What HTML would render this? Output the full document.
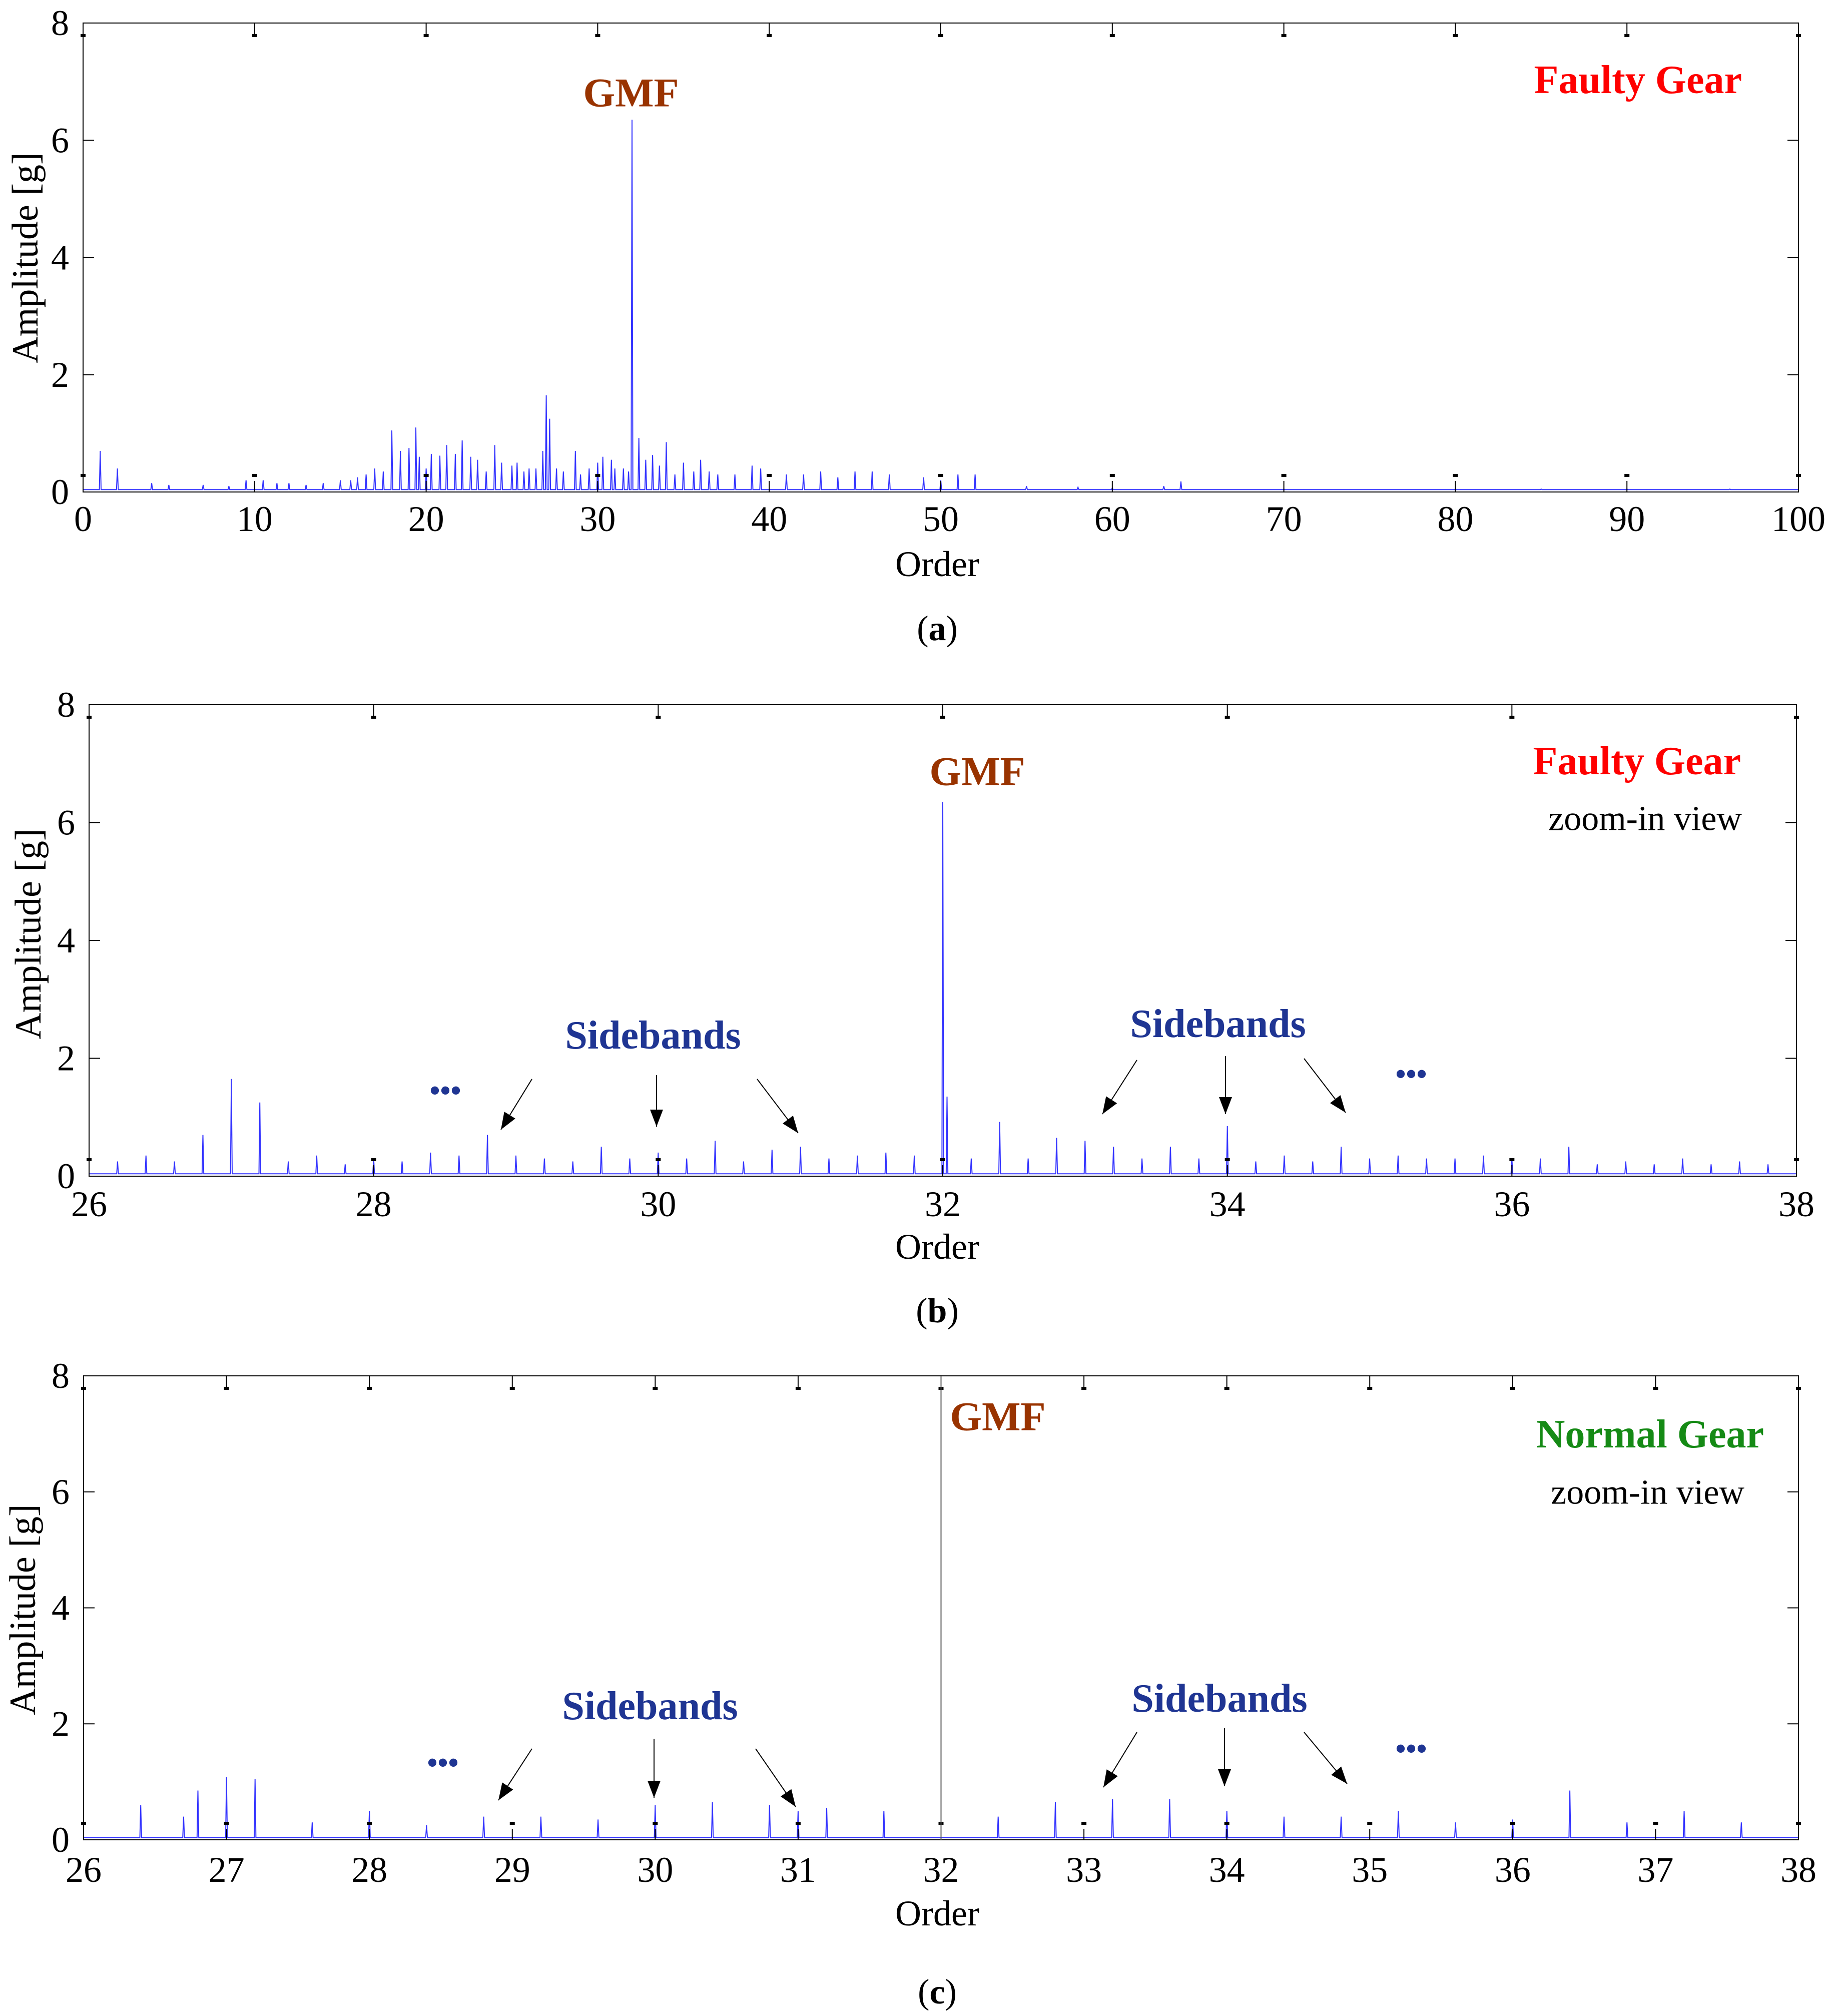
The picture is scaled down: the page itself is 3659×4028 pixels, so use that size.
<!DOCTYPE html>
<html><head><meta charset="utf-8">
<style>
html,body{margin:0;padding:0;background:#fff;}
svg{display:block;font-family:"Liberation Serif",serif;}
</style></head>
<body>
<svg id="chart" width="3659" height="4028" viewBox="0 0 3659 4028" xmlns="http://www.w3.org/2000/svg">
<rect width="3659" height="4028" fill="#fff"/>
</svg>
<script>
// Panel (a) data: faulty gear full view
const aOrders = [1,2,4,5,7,8.5,9.5,10.5,11.3,12,13,14,15,15.6,16,16.5,17,17.5,18,18.5,19,19.4,19.6,20,20.3,20.8,21.2,21.7,22.1,22.6,23,23.5,24,24.4,25,25.3,25.7,26,26.4,26.8,27,27.2,27.6,28,28.7,29,29.5,30,30.3,30.8,31,31.5,31.8,32,32.4,32.8,33.2,33.6,34,34.5,35,35.6,36,36.5,37,38,39,39.5,41,42,43,44,45,46,47,49,50,51,52,55,58,60,63,64,70,80,85,90,96];
const aAmps   = [0.7,0.4,0.15,0.12,0.12,0.1,0.2,0.2,0.15,0.15,0.12,0.15,0.2,0.2,0.25,0.3,0.4,0.35,1.05,0.7,0.75,1.1,0.6,0.4,0.65,0.62,0.8,0.65,0.88,0.6,0.55,0.35,0.8,0.5,0.45,0.5,0.35,0.4,0.4,0.7,1.65,1.25,0.4,0.35,0.7,0.3,0.4,0.5,0.6,0.55,0.4,0.4,0.35,6.35,0.92,0.55,0.63,0.45,0.85,0.3,0.5,0.35,0.55,0.35,0.3,0.3,0.45,0.4,0.3,0.3,0.35,0.25,0.35,0.35,0.3,0.25,0.2,0.3,0.3,0.1,0.08,0.07,0.1,0.18,0.05,0.05,0.05,0.05,0.05];
// Panel (b) data: faulty gear zoom-in
const bOrders = [26.2,26.4,26.6,26.8,27,27.2,27.4,27.6,27.8,28,28.2,28.4,28.6,28.8,29,29.2,29.4,29.6,29.8,30,30.2,30.4,30.6,30.8,31,31.2,31.4,31.6,31.8,32,32.03,32.2,32.4,32.6,32.8,33,33.2,33.4,33.6,33.8,34,34.2,34.4,34.6,34.8,35,35.2,35.4,35.6,35.8,36,36.2,36.4,36.6,36.8,37,37.2,37.4,37.6,37.8];
const bAmps   = [0.25,0.35,0.25,0.7,1.65,1.25,0.25,0.35,0.2,0.3,0.25,0.4,0.35,0.7,0.35,0.3,0.25,0.5,0.3,0.4,0.3,0.6,0.25,0.45,0.5,0.3,0.35,0.4,0.35,6.35,1.35,0.3,0.92,0.3,0.65,0.6,0.5,0.3,0.5,0.3,0.85,0.25,0.35,0.25,0.5,0.3,0.35,0.3,0.3,0.35,0.3,0.3,0.5,0.2,0.25,0.2,0.3,0.2,0.25,0.2];
// Panel (c) data: normal gear zoom-in
const cOrders = [26.4,26.7,26.8,27,27.2,27.6,28,28.4,28.8,29.2,29.6,30,30.4,30.8,31,31.2,31.6,32.4,32.8,33.2,33.6,34,34.4,34.8,35.2,35.6,36,36.4,36.8,37.2,37.6];
const cAmps   = [0.6,0.4,0.85,1.08,1.05,0.3,0.5,0.25,0.4,0.4,0.35,0.6,0.65,0.6,0.5,0.55,0.5,0.4,0.65,0.7,0.7,0.5,0.4,0.4,0.5,0.3,0.35,0.85,0.3,0.5,0.3];
const cGmfOrder = 32, cGmfAmp = 8;
const aTicks = [0,10,20,30,40,50,60,70,80,90,100];
const bTicks = [26,28,30,32,34,36,38];
const cTicks = [26,27,28,29,30,31,32,33,34,35,36,37,38];
const yTicks = [0,2,4,6,8];

const NS="http://www.w3.org/2000/svg";
const svg=document.getElementById('chart');
function mk(tag,attrs,parent){const e=document.createElementNS(NS,tag);for(const k in attrs)e.setAttribute(k,attrs[k]);(parent||svg).appendChild(e);return e;}
function txt(s,x,y,size,opts,parent){const t=mk('text',Object.assign({x:x,y:y,'font-size':size,'dominant-baseline':'central','text-anchor':'middle',fill:'#000'},opts||{}),parent);t.textContent=s;return t;}

function panel(p){
  const g=mk('g',{});
  
  
  const X=v=>p.x0+(v-p.xmin)/(p.xmax-p.xmin)*(p.x1-p.x0);
  const Y=v=>p.y0-(v/8)*(p.y0-p.y1);
  const frame=mk('rect',{x:p.x0,y:p.y1,width:p.x1-p.x0,height:p.y0-p.y1,fill:'none',stroke:'#000','stroke-width':2},g);
  
  
  const base=0.04, d=(p.xmax-p.xmin)*0.0005;
  let pts=[[p.xmin,base]];
  p.orders.forEach((o,i)=>{pts.push([o-d,base]);pts.push([o,p.amps[i]]);pts.push([o+d,base]);});
  pts.push([p.xmax,base]);
  const line=mk('polyline',{points:pts.map(q=>X(q[0]).toFixed(1)+','+Y(q[1]).toFixed(1)).join(' '),fill:'none',stroke:'#3333ff','stroke-width':2},g);
  
  
  p.ticks.forEach(t=>{
    const x=X(t);
    mk('line',{x1:x,y1:p.y0,x2:x,y2:p.y0-22,stroke:'#000','stroke-width':2},g);
    mk('line',{x1:x,y1:p.y1,x2:x,y2:p.y1+22,stroke:'#000','stroke-width':2},g);
    mk('rect',{x:x-5,y:p.y1+22,width:10,height:6,fill:'#000'},g);
    mk('rect',{x:x-5,y:p.y0-36,width:10,height:6,fill:'#000'},g);
    const l=txt(String(t),x,p.xlabY,72,{},g);
    
    
  });
  yTicks.forEach(t=>{
    const y=Y(t);
    mk('line',{x1:p.x0,y1:y,x2:p.x0+22,y2:y,stroke:'#000','stroke-width':2},g);
    mk('line',{x1:p.x1,y1:y,x2:p.x1-22,y2:y,stroke:'#000','stroke-width':2},g);
    const l=txt(String(t),p.x0-28,y,72,{'text-anchor':'end'},g);
    
    
  });
  const yl=txt('Amplitude [g]',0,0,74,{transform:`translate(${p.ylab[0]},${p.ylab[1]}) rotate(-90)`},g);
  
  
  const xl=txt('Order',1873,p.orderY,72,{},g);
  
  
  const cap=mk('text',{x:1873,y:p.capY,'font-size':70,'text-anchor':'middle','dominant-baseline':'central'},g);
  cap.innerHTML='(<tspan font-weight="bold">'+p.cap+'</tspan>)';
  
  
  return {g,X,Y};
}
function arrow(x1,y1,x2,y2,g){
  mk('line',{x1,y1,x2,y2,stroke:'#000','stroke-width':2},g);
  const a=Math.atan2(y2-y1,x2-x1),L=34,w=13;
  const bx=x2-L*Math.cos(a),by=y2-L*Math.sin(a);
  mk('polygon',{points:`${x2},${y2} ${bx+w*Math.sin(a)},${by-w*Math.cos(a)} ${bx-w*Math.sin(a)},${by+w*Math.cos(a)}`,fill:'#000'},g);
}
function label(s,x,y,size,color,name,g,anchor,weight){
  const t=txt(s,x,y,size,{fill:color,'font-weight':weight||'bold','text-anchor':anchor||'middle'},g);
  
  
}

const A=panel({name:'panel-a',x0:166,x1:3594,y0:983,y1:46,xmin:0,xmax:100,orders:aOrders,amps:aAmps,ticks:aTicks,xlabY:1037,ylab:[51,515],orderY:1127,capY:1256,cap:'a'});
label('GMF',1261,185,82,'#993300','gmf-label',A.g);
label('Faulty Gear',3481,160,80,'#ff0000','faulty-gear-label',A.g,'end');

const B=panel({name:'panel-b',x0:178,x1:3590,y0:2350,y1:1408,xmin:26,xmax:38,orders:bOrders,amps:bAmps,ticks:bTicks,xlabY:2406,ylab:[57,1866],orderY:2491,capY:2619,cap:'b'});
label('GMF',1953,1541,82,'#993300','gmf-label',B.g);
label('Faulty Gear',3479,1521,80,'#ff0000','faulty-gear-label',B.g,'end');
label('zoom-in view',3481,1636,70,'#000','zoom-in-view-label',B.g,'end','normal');
label('Sidebands',1305,2069,80,'#1f3593','sidebands-left-label',B.g);
label('Sidebands',2434,2046,80,'#1f3593','sidebands-right-label',B.g);
label('•••',890,2179,60,'#1f3593','ellipsis-left',B.g);
label('•••',2820,2146,60,'#1f3593','ellipsis-right',B.g);
arrow(1063,2156,1001,2257,B.g);arrow(1312,2148,1312,2251,B.g);arrow(1513,2156,1595,2264,B.g);
arrow(2272,2118,2203,2226,B.g);arrow(2449,2110,2449,2226,B.g);arrow(2606,2115,2689,2223,B.g);

const C=panel({name:'panel-c',x0:167,x1:3594,y0:3676,y1:2749,xmin:26,xmax:38,orders:cOrders,amps:cAmps,ticks:cTicks,xlabY:3736,ylab:[46,3216],orderY:3823,capY:3980,cap:'c'});
const gl=mk('line',{x1:C.X(cGmfOrder),y1:C.Y(0),x2:C.X(cGmfOrder),y2:C.Y(cGmfAmp),stroke:'#555','stroke-width':2},C.g);


label('GMF',1994,2830,82,'#993300','gmf-label',C.g);
label('Normal Gear',3525,2866,80,'#158a15','normal-gear-label',C.g,'end');
label('zoom-in view',3486,2982,70,'#000','zoom-in-view-label',C.g,'end','normal');
label('Sidebands',1299,3409,80,'#1f3593','sidebands-left-label',C.g);
label('Sidebands',2437,3394,80,'#1f3593','sidebands-right-label',C.g);
label('•••',885,3522,60,'#1f3593','ellipsis-left',C.g);
label('•••',2820,3494,60,'#1f3593','ellipsis-right',C.g);
arrow(1063,3494,996,3597,C.g);arrow(1307,3474,1307,3592,C.g);arrow(1510,3494,1590,3610,C.g);
arrow(2272,3461,2205,3571,C.g);arrow(2447,3453,2447,3569,C.g);arrow(2606,3461,2692,3564,C.g);
</script>
</body></html>
